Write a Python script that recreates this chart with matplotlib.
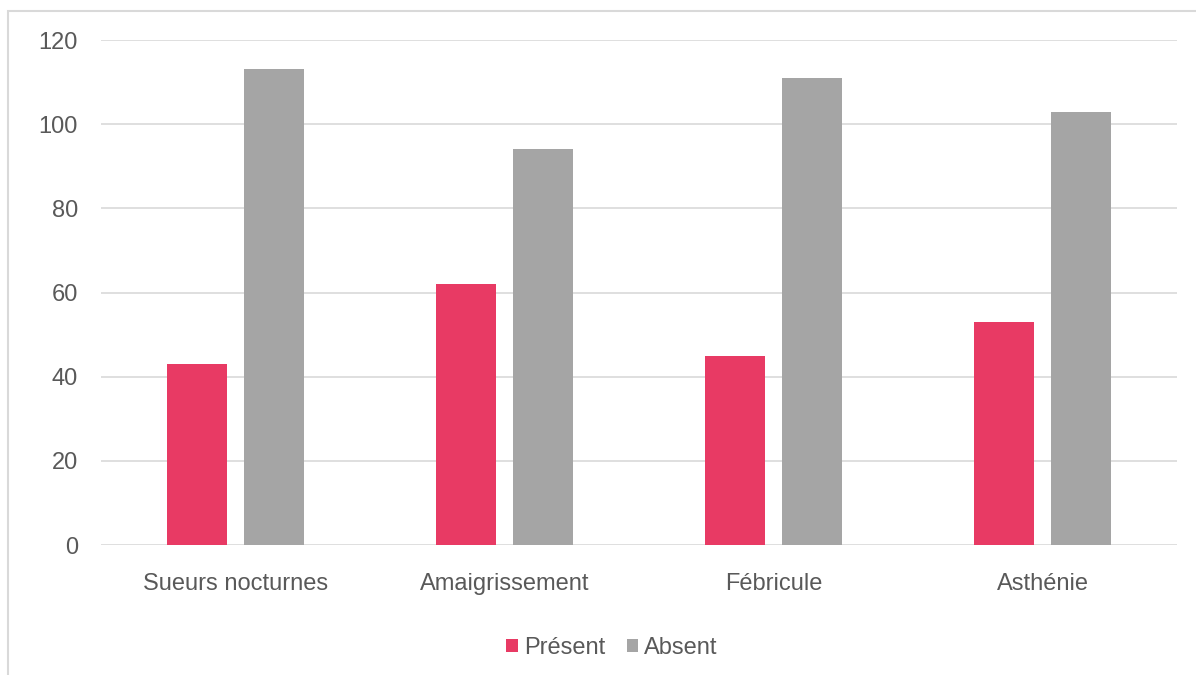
import numpy as np
import matplotlib.pyplot as plt
from matplotlib.patches import Rectangle

# symptomes et effectifs
categories = ["Sueurs nocturnes", "Amaigrissement", "Fébricule", "Asthénie"]
present = [43, 62, 45, 53]
absent = [113, 94, 111, 103]
yticks = [0, 20, 40, 60, 80, 100, 120]

plt.rcParams['font.family'] = ['Liberation Sans', 'DejaVu Sans']
gris_texte = "#595959"

fig = plt.figure(figsize=(11.96, 6.75), dpi=100)
ax = fig.add_axes([101/1196, 1 - 545/675, 1076/1196, 505/675])

x = np.arange(len(categories))
w = 0.223
ax.bar(x - 0.143, present, w, color="#E83A64", label="Présent", zorder=3)
ax.bar(x + 0.143, absent, w, color="#A5A5A5", label="Absent", zorder=3)

ax.set_xlim(-0.5, len(categories) - 0.5)
ax.set_ylim(0, 120)
ax.set_yticks(yticks)
ax.set_xticks(x)
ax.set_xticklabels(categories)
ax.grid(axis="y", color="#D9D9D9", linewidth=1.2, zorder=0)
ax.tick_params(axis="both", length=0, labelsize=17, colors=gris_texte)
ax.tick_params(axis="y", pad=16.5)
ax.tick_params(axis="x", pad=20)
for s in ax.spines.values():
    s.set_visible(False)

# cadre du graphique
fig.patches.append(Rectangle((8/1196, -0.1), 1.2, 1 - 11/675 + 0.1, transform=fig.transFigure,
                             fill=False, edgecolor="#D9D9D9", linewidth=1.5))

fig.legend(loc="center", bbox_to_anchor=(612/1196, 1 - 648/675), ncol=2, frameon=False,
           fontsize=17, handlelength=0.5, handleheight=0.5, handletextpad=0.25,
           columnspacing=0.9, labelcolor=gris_texte)

plt.savefig("out.png")
plt.close()
